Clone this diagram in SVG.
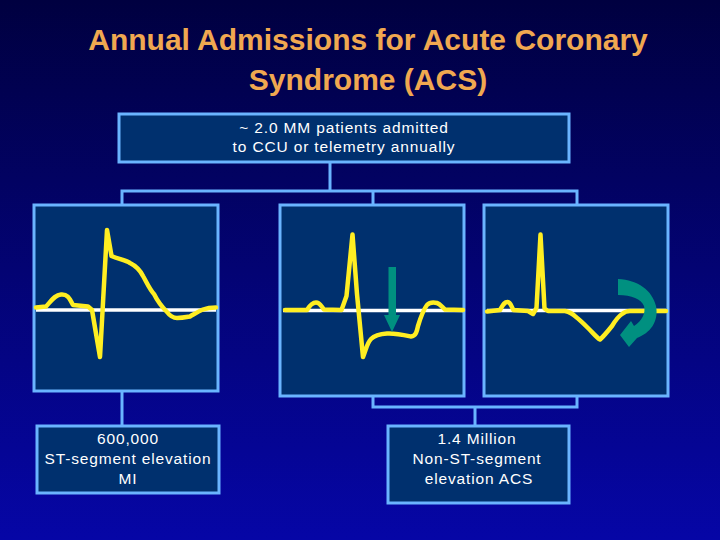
<svg xmlns="http://www.w3.org/2000/svg" width="720" height="540" viewBox="0 0 720 540">
<defs>
<linearGradient id="bg" x1="0" y1="0" x2="0" y2="1">
<stop offset="0" stop-color="#000040"/>
<stop offset="1" stop-color="#0606A6"/>
</linearGradient>
<style>
.box{fill:#00306E;stroke:#6AB4FF;stroke-width:3}
.con{fill:none;stroke:#6AB4FF;stroke-width:3}
.t{font-family:"Liberation Sans",Arial,sans-serif;font-size:15.5px;letter-spacing:0.85px;fill:#FFFFFF;text-anchor:middle}
.title{font-family:"Liberation Sans",Arial,sans-serif;font-size:30px;font-weight:bold;fill:#F0A850;text-anchor:middle}
.base{stroke:#FFFFFF;stroke-width:3.5}
.ecg{fill:none;stroke:#FFEE22;stroke-width:4.5;stroke-linejoin:round;stroke-linecap:round}
.arr{fill:#009080}
</style>
</defs>
<rect x="0" y="0" width="720" height="540" fill="url(#bg)"/>
<text class="title" x="368" y="50">Annual Admissions for Acute Coronary</text>
<text class="title" x="368" y="90">Syndrome (ACS)</text>

<g id="connectors">
<path class="con" d="M330,162 V191 M122,205 V191 H577 V205 M373,191 V205"/>
<path class="con" d="M122,391 V426"/>
<path class="con" d="M373,396 V407 H577 V396 M475,407 V426"/>
</g>

<g id="top">
<rect class="box" x="119" y="114" width="450" height="48"/>
<text class="t" x="344" y="133">~ 2.0 MM patients admitted</text>
<text class="t" x="344" y="152">to CCU or telemetry annually</text>
</g>

<g id="ecg1">
<rect class="box" x="34" y="205" width="184" height="186"/>
<line class="base" x1="36" y1="310" x2="216" y2="310"/>
<path class="ecg" d="M36,307.5 L46,306.5 C52,300 55,295 61,294.5 C67,294 69,297 73,305 L88,306.5 L92,310 L100,357 L107,230 L111.5,256 C118,259 125,260 130,263 C136,266 140,270 143,276 C147,283 150,290 154,294 C158,302 162,307 167,312 C170,316 173,318 177,318 C183,318 187,317 190,316.5 C196,313 199,311 203,309.5 C207,308 211,307.5 216,307.5"/>
</g>

<g id="ecg2">
<rect class="box" x="280" y="205" width="184" height="191"/>
<line class="base" x1="283" y1="310.5" x2="463" y2="310.5"/>
<path class="ecg" d="M285,310 L307,310 C310,305 313,302.5 316,302.5 C320,302.5 321,306 324,309.5 L341.5,310 L346.5,296 L352.5,234.5 L357,294 L363,357 C366,350 367,343 371,339 C375,335 380,334 387,333.5 C395,333 404,335 411,336.5 C416,336 417,331 418,326 C421,316 424,309 427,305 C430,302 433,302 437,303 C440,304 442,307 445,309.5 L463,310"/>
<path class="arr" d="M388.5,267 H396 V315 H400 L392,332 L384,315 H388.5 Z"/>
</g>

<g id="ecg3">
<rect class="box" x="484" y="205" width="184" height="191"/>
<line class="base" x1="487" y1="310.5" x2="666" y2="310.5"/>
<path class="ecg" d="M487,311.5 L500,310 C503,305 504,302 507.5,302 C510.5,302 511,306 513.5,310 L528,311 L533,314 L536.5,308 L540.5,234.5 L544.5,308.5 L548,311 L565,311 C570,312 573,314 576,317 C580,320 584,324 589,329 C593,333 597,338 600,339.5 C604,336 608,331 612,326 C615,321 619,316 622,314 C625,311.5 627,311 630,311 L666,311"/>
<path class="arr" d="M618,279 C638,280 652,290 656,306 C659,322 650,333 637,338 L629,347 L620,335 L631,321 L634,326 C642,321 646,313 644,306 C641,299 632,295 618,295 Z"/>
</g>

<g id="stemi">
<rect class="box" x="37" y="426" width="182" height="67"/>
<text class="t" x="128" y="444">600,000</text>
<text class="t" x="128" y="464">ST-segment elevation</text>
<text class="t" x="128" y="484">MI</text>
</g>

<g id="nstemi">
<rect class="box" x="388" y="426" width="181" height="77"/>
<text class="t" x="477" y="444">1.4 Million</text>
<text class="t" x="477" y="464">Non-ST-segment</text>
<text class="t" x="479" y="484">elevation ACS</text>
</g>
</svg>
